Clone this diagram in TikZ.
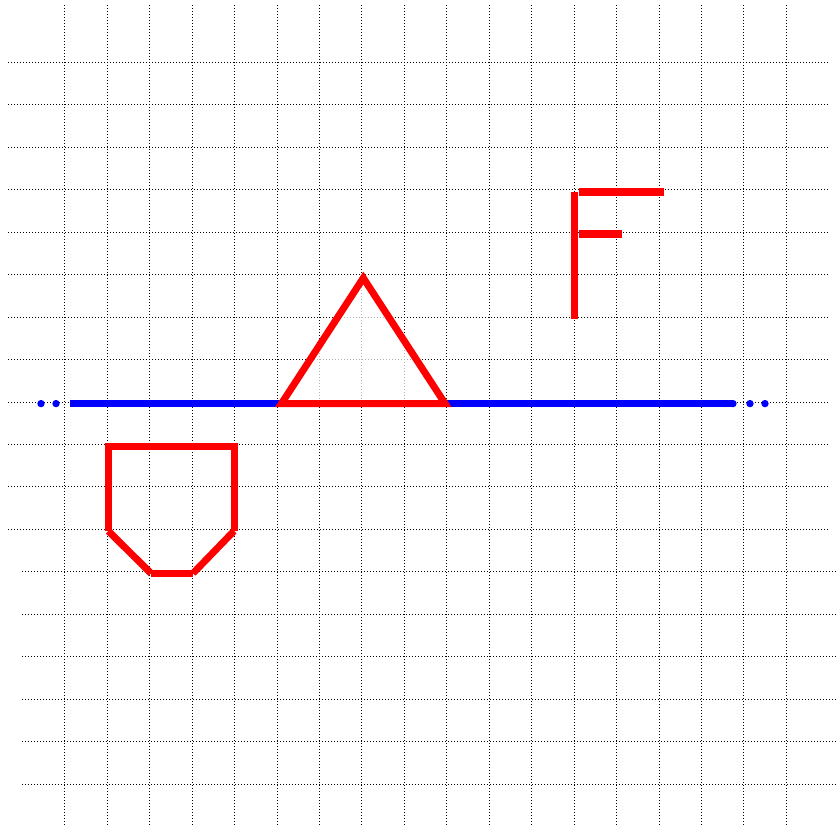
\documentclass[tikz,border=0pt]{standalone}
\begin{document}
\begin{tikzpicture}[x=1pt,y=-1pt,
  gridline/.style={black, line width=1.1pt, dash pattern=on 1.1pt off 1.9pt},
  redstroke/.style={red, line width=7pt},
  bluestroke/.style={blue, line width=7.3pt},
  bluedot/.style={blue, fill=blue}]
\useasboundingbox (0,0) rectangle (836,827);
% grid
\foreach \y in {62,104,147,189,232,274,317,359,402,444,486,529} \draw[gridline] (8,\y+0.5) -- (828,\y+0.5);
\foreach \y in {571,614,656,699,741,784} \draw[gridline] (22,\y+0.5) -- (836,\y+0.5);
\foreach \x in {64,107,149,192,234,277,319,361,404,446,489,531,574,616,659,701,743,786} \draw[gridline] (\x+0.5,5) -- (\x+0.5,827);
% blue line
\coordinate (bl) at (70,403.6);
\coordinate (br) at (733,403.6);
\draw[bluestroke] (bl) -- (br);
\fill[bluedot] (br) circle (3.65);
\fill[bluedot] (41,403.6) circle (3.7);
\fill[bluedot] (56,403.6) circle (3.7);
\fill[bluedot] (750,403.6) circle (3.7);
\fill[bluedot] (765,403.6) circle (3.7);
% triangle
\coordinate (tA) at (281.5,403.5);
\coordinate (tB) at (445,403.5);
\coordinate (tC) at (363.3,278);
\draw[redstroke, fill=white, fill opacity=0.7] (tA) -- (tB) -- (tC) -- cycle;
% F
\coordinate (f1) at (574.5,191.7);
\coordinate (f2) at (574.5,319);
\coordinate (f3) at (579,192);
\coordinate (f4) at (664,192);
\coordinate (f5) at (579,234);
\coordinate (f6) at (621.7,234);
\draw[red, line width=7.6pt] (f1) -- (f2);
\draw[red, line width=7.6pt] (f3) -- (f4);
\draw[red, line width=7.6pt] (f5) -- (f6);
% home-plate shape
\coordinate (p1) at (108.3,531);
\coordinate (p2) at (108.3,446.3);
\coordinate (p3) at (234,446.3);
\coordinate (p4) at (234,531);
\coordinate (p5) at (193,573.3);
\coordinate (p6) at (151,573.3);
\draw[redstroke] (p1) -- (p2) -- (p3) -- (p4);
\draw[redstroke] (p4) -- (p5);
\draw[redstroke] (p6) -- (p5);
\draw[redstroke] (p1) -- (p6);
\end{tikzpicture}
\end{document}
